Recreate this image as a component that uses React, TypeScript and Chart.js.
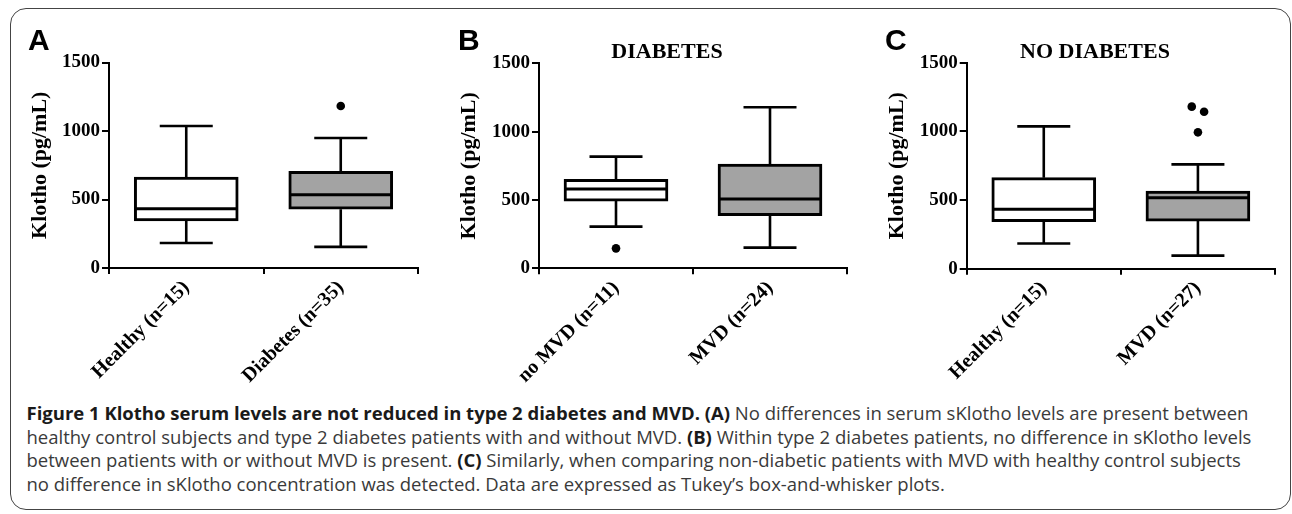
import React, { useEffect, useRef } from 'react';
import { Chart, registerables } from 'chart.js';

Chart.register(...registerables);

// ---------- DATA ----------
const Y_TICKS = [0, 500, 1000, 1500];
const Y_TITLE = 'Klotho (pg/mL)';

// Panel A
const labelsA = ['Healthy (n=15)', 'Diabetes (n=35)'];
const minA = [183, 154];
const q1A = [343, 429];
const medianA = [432, 534];
const q3A = [663, 705];
const maxA = [1036, 949];
const outlierXA = [1];
const outlierYA = [1183];

// Panel B
const labelsB = ['no MVD (n=11)', 'MVD (n=24)'];
const minB = [305, 151];
const q1B = [492, 385];
const medianB = [580, 507];
const q3B = [651, 763];
const maxB = [817, 1178];
const outlierXB = [0];
const outlierYB = [146];

// Panel C
const labelsC = ['Healthy (n=15)', 'MVD (n=27)'];
const minC = [183, 95];
const q1C = [343, 347];
const medianC = [432, 517];
const q3C = [663, 566];
const maxC = [1036, 760];
const outlierXC = [0.96, 1.04, 1.0];
const outlierYC = [1180, 1143, 993];

const titleB = 'DIABETES';
const titleC = 'NO DIABETES';

// ---------- STYLE ----------
const SERIF = '"Liberation Serif", "Times New Roman", serif';
const FILLS = ['#ffffff', '#a3a3a3'];
const BOX_W = 104;
const CAP_W = 53;

const boxWhiskerPlugin = {
  id: 'boxWhisker',
  beforeDatasetsDraw(chart: any, _args: any, opts: any) {
    const { ctx, scales } = chart;
    const x = scales.x, y = scales.y;
    const s = opts.stats;
    ctx.save();
    ctx.strokeStyle = '#000';
    ctx.lineWidth = 2.6;
    s.min.forEach((_: number, i: number) => {
      const cx = x.getPixelForValue(i);
      const yMax = y.getPixelForValue(s.max[i]);
      const yMin = y.getPixelForValue(s.min[i]);
      const yQ3 = y.getPixelForValue(s.q3[i]);
      const yQ1 = y.getPixelForValue(s.q1[i]);
      ctx.beginPath();
      ctx.moveTo(cx, yQ3); ctx.lineTo(cx, yMax);
      ctx.moveTo(cx - CAP_W / 2, yMax); ctx.lineTo(cx + CAP_W / 2, yMax);
      ctx.moveTo(cx, yQ1); ctx.lineTo(cx, yMin);
      ctx.moveTo(cx - CAP_W / 2, yMin); ctx.lineTo(cx + CAP_W / 2, yMin);
      ctx.stroke();
    });
    ctx.restore();
  },
  afterDatasetsDraw(chart: any, _args: any, opts: any) {
    const { ctx, scales } = chart;
    const x = scales.x, y = scales.y;
    const s = opts.stats;
    ctx.save();
    ctx.strokeStyle = '#000';
    ctx.lineWidth = 3;
    s.median.forEach((m: number, i: number) => {
      const cx = x.getPixelForValue(i);
      const ym = y.getPixelForValue(m);
      ctx.beginPath();
      ctx.moveTo(cx - BOX_W / 2 + 1, ym); ctx.lineTo(cx + BOX_W / 2 - 1, ym);
      ctx.stroke();
    });
    ctx.restore();
  },
};

type Geom = { left: number; width: number; height: number; axisW: number; padTop: number; padRight: number; xH: number; yTitlePad: number };

function BoxChart(props: {
  labels: string[]; mins: number[]; q1s: number[]; medians: number[]; q3s: number[]; maxs: number[];
  outX: number[]; outY: number[]; geom: Geom;
}) {
  const ref = useRef<HTMLCanvasElement | null>(null);
  const { labels, mins, q1s, medians, q3s, maxs, outX, outY, geom } = props;
  useEffect(() => {
    if (!ref.current) return;
    const chart = new Chart(ref.current, {
      type: 'bar',
      data: {
        datasets: [
          {
            type: 'scatter',
            data: outX.map((xv, i) => ({ x: xv, y: outY[i] })),
            pointRadius: 4.3,
            pointBackgroundColor: '#000',
            pointBorderWidth: 0,
            showLine: false,
          } as any,
          {
            type: 'bar',
            data: labels.map((_, i) => ({ x: i, y: [q1s[i], q3s[i]] })),
            backgroundColor: FILLS,
            borderColor: '#000',
            borderWidth: 3,
            borderSkipped: false,
            barThickness: BOX_W,
          } as any,
        ],
      },
      options: {
        responsive: false,
        animation: false,
        events: [],
        layout: { padding: { left: 0, top: geom.padTop, right: geom.padRight, bottom: 0 } },
        plugins: {
          legend: { display: false },
          tooltip: { enabled: false },
          boxWhisker: { stats: { min: mins, q1: q1s, median: medians, q3: q3s, max: maxs } },
        } as any,
        scales: {
          x: {
            type: 'linear',
            min: -0.5,
            max: 1.5,
            offset: false,
            afterBuildTicks: (scale: any) => { scale.ticks = labels.map((_, i) => ({ value: i })); },
            afterFit: (scale: any) => { scale.height = geom.xH; },
            border: { display: true, color: '#000', width: 2 },
            grid: { display: true, drawOnChartArea: false, drawTicks: true, tickLength: 6, color: '#000', lineWidth: 2 },
            ticks: {
              autoSkip: false,
              minRotation: 45,
              maxRotation: 45,
              padding: 2,
              color: '#000',
              font: { family: SERIF, weight: 'bold', size: 20 },
              callback: (v: any) => labels[Math.round(Number(v))] ?? '',
            },
          } as any,
          y: {
            type: 'linear',
            min: 0,
            max: 1500,
            afterBuildTicks: (scale: any) => { scale.ticks = Y_TICKS.map((v) => ({ value: v })); },
            afterFit: (scale: any) => { scale.width = geom.axisW; },
            border: { display: true, color: '#000', width: 2 },
            grid: { display: true, drawOnChartArea: false, drawTicks: true, tickLength: 7, color: '#000', lineWidth: 2 },
            ticks: {
              padding: 2,
              color: '#000',
              font: { family: SERIF, weight: 'bold', size: 19 },
              callback: (v: any) => String(v),
            },
            title: {
              display: true,
              text: Y_TITLE,
              color: '#000',
              font: { family: SERIF, weight: 'bold', size: 22 },
              padding: { top: geom.yTitlePad, bottom: 0 },
            },
          } as any,
        },
      },
      plugins: [boxWhiskerPlugin as any],
    });
    return () => chart.destroy();
  }, []);
  return (
    <canvas
      ref={ref}
      width={geom.width}
      height={geom.height}
      style={{ position: 'absolute', left: geom.left, top: 0, width: geom.width, height: geom.height }}
    />
  );
}

const geomA: Geom = { left: 0, width: 430, height: 400, axisW: 109, padTop: 62.5, padRight: 12, xH: 132, yTitlePad: 26.8 };
const geomB: Geom = { left: 430, width: 430, height: 400, axisW: 109, padTop: 63.3, padRight: 13, xH: 131.7, yTitlePad: 25.8 };
const geomC: Geom = { left: 860, width: 432, height: 400, axisW: 106.7, padTop: 62.7, padRight: 17, xH: 131.3, yTitlePad: 23.8 };

const CAP_FONT = '"Open Sans", "Noto Sans", sans-serif';
const CAP_SIZE = 18.5;
const CAP_LH = 23.7;

export default function App() {
  const letter = (t: string, left: number) => (
    <div style={{ position: 'absolute', left, top: 24.6, fontFamily: '"Liberation Sans", Arial, sans-serif', fontWeight: 'bold', fontSize: 30, lineHeight: '30px', color: '#000' }}>{t}</div>
  );
  const title = (t: string, cx: number) => (
    <div style={{ position: 'absolute', left: cx - 150, width: 300, top: 40, textAlign: 'center', fontFamily: SERIF, fontWeight: 'bold', fontSize: 22, lineHeight: '22px', color: '#000' }}>{t}</div>
  );
  const b = (t: string) => <span style={{ fontWeight: 700, color: '#1a1a1a' }}>{t}</span>;
  const capLine = (i: number, content: React.ReactNode) => (
    <div style={{ position: 'absolute', left: 26.5, top: 401 + i * CAP_LH, whiteSpace: 'nowrap', fontFamily: CAP_FONT, fontSize: CAP_SIZE, lineHeight: CAP_LH + 'px', color: '#3a3a3a' }}>{content}</div>
  );
  return (
    <div style={{ position: 'absolute', left: 0, top: 0, width: 1292, height: 514, background: '#fff', overflow: 'hidden' }}>
      <div style={{ position: 'absolute', left: 9.5, top: 7.5, width: 1281, height: 502, border: '1.5px solid #444', borderRadius: 16, boxSizing: 'border-box' }} />
      <BoxChart labels={labelsA} mins={minA} q1s={q1A} medians={medianA} q3s={q3A} maxs={maxA} outX={outlierXA} outY={outlierYA} geom={geomA} />
      <BoxChart labels={labelsB} mins={minB} q1s={q1B} medians={medianB} q3s={q3B} maxs={maxB} outX={outlierXB} outY={outlierYB} geom={geomB} />
      <BoxChart labels={labelsC} mins={minC} q1s={q1C} medians={medianC} q3s={q3C} maxs={maxC} outX={outlierXC} outY={outlierYC} geom={geomC} />
      {letter('A', 28)}
      {letter('B', 458)}
      {letter('C', 885)}
      {title(titleB, 667)}
      {title(titleC, 1095)}
      {capLine(0, <>{b('Figure 1 Klotho serum levels are not reduced in type 2 diabetes and MVD.')} {b('(A)')} No differences in serum sKlotho levels are present between</>)}
      {capLine(1, <>healthy control subjects and type 2 diabetes patients with and without MVD. {b('(B)')} Within type 2 diabetes patients, no difference in sKlotho levels</>)}
      {capLine(2, <>between patients with or without MVD is present. {b('(C)')} Similarly, when comparing non-diabetic patients with MVD with healthy control subjects</>)}
      {capLine(3, <>no difference in sKlotho concentration was detected. Data are expressed as Tukey’s box-and-whisker plots.</>)}
    </div>
  );
}
